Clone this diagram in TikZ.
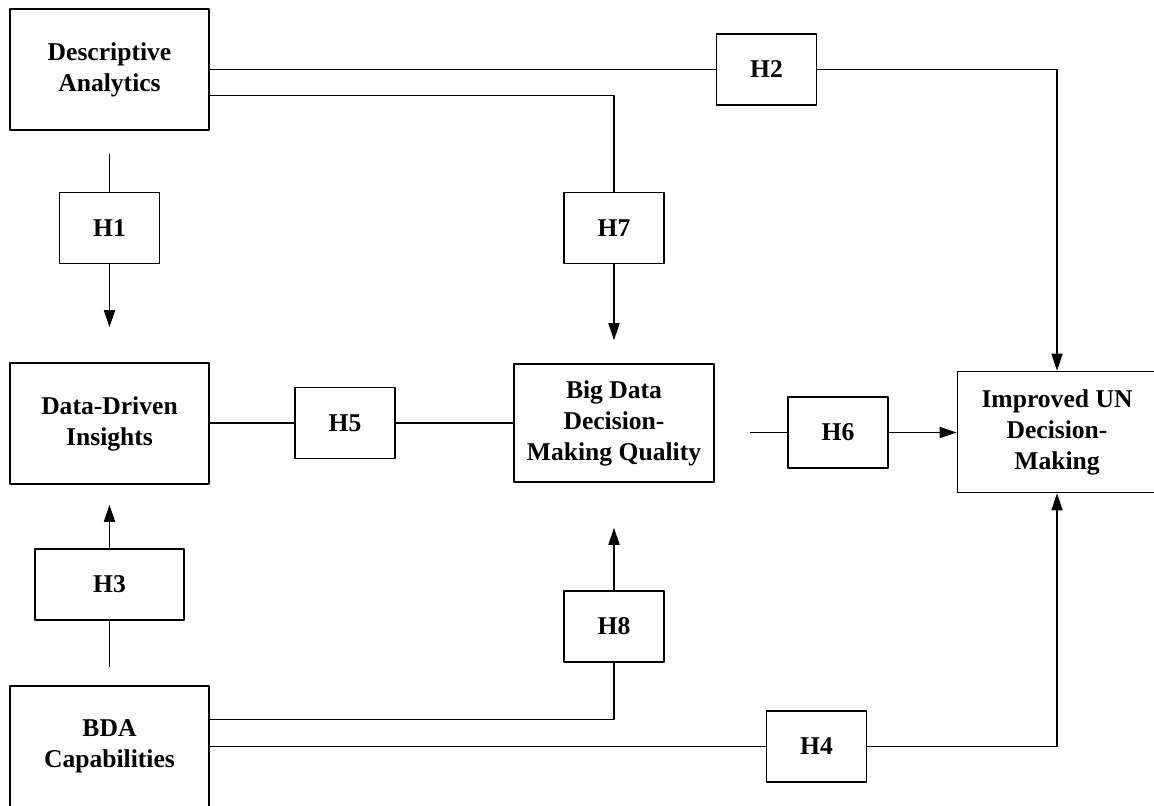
\documentclass[tikz,border=0pt]{standalone}
\usepackage{fontspec}
\setmainfont{Liberation Serif}
\usetikzlibrary{arrows.meta}
\begin{document}
\begin{tikzpicture}[x=0.5pt, y=-0.5pt, line width=0.8pt, line join=round, >={Triangle[length=8.5pt,width=5.5pt]},
	font=\fontsize{12.8pt}{15.5pt}\selectfont\bfseries,
	construct/.style={draw, align=center, minimum width=99.5pt, minimum height=60.5pt, inner sep=0pt},
	hyp/.style={draw, minimum width=50pt, minimum height=35.5pt, inner sep=0pt}]
	\useasboundingbox (0,0) rectangle (1154,805);
	\node[construct] (da) at (109.5,69.5) {Descriptive\\Analytics};
	\node[construct] (ddi) at (109.5,423.5) {Data-Driven\\Insights};
	\node[construct] (bda) at (109.5,746.5) {BDA\\Capabilities};
	\node[construct, minimum width=100pt, minimum height=59pt] (bdq) at (614,423) {Big Data\\Decision-\\Making Quality};
	\node[construct] (imp) at (1057,432) {Improved UN\\Decision-\\Making};
	\node[hyp] (h1) at (109.5,228) {H1};
	\node[hyp] (h2) at (766.5,69.5) {H2};
	\node[hyp, minimum width=74.5pt] (h3) at (109.5,584.5) {H3};
	\node[hyp] (h4) at (816.5,746.5) {H4};
	\node[hyp] (h5) at (345,423) {H5};
	\node[hyp] (h6) at (838,432.5) {H6};
	\node[hyp] (h7) at (614,228) {H7};
	\node[hyp] (h8) at (614,626.5) {H8};
	\draw[shorten <=11.5pt] (da) -- (h1);
	\draw[->, shorten >=17.5pt] (h1) -- (ddi);
	\draw[shorten <=9pt] (bda) -- (h3);
	\draw[->, shorten >=10pt] (h3) -- (ddi);
	\draw (da.east) -- (h2.west);
	\draw[->] (h2.east) -| (imp.north);
	\draw ([yshift=-13pt]da.east) -| (h7.north);
	\draw[->, shorten >=11.5pt] (h7) -- (bdq);
	\draw (ddi.east |- h5.west) -- (h5.west);
	\draw (h5.east) -- (bdq.west);
	\draw[shorten <=17.5pt] (bdq.east |- h6.west) -- (h6.west);
	\draw[->] (h6.east) -- (imp.west |- h6.east);
	\draw ([yshift=13.5pt]bda.east) -| (h8.south);
	\draw[->, shorten >=22.5pt] (h8) -- (bdq);
	\draw (bda.east) -- (h4.west);
	\draw[->] (h4.east) -| (imp.south);
\end{tikzpicture}
\end{document}
